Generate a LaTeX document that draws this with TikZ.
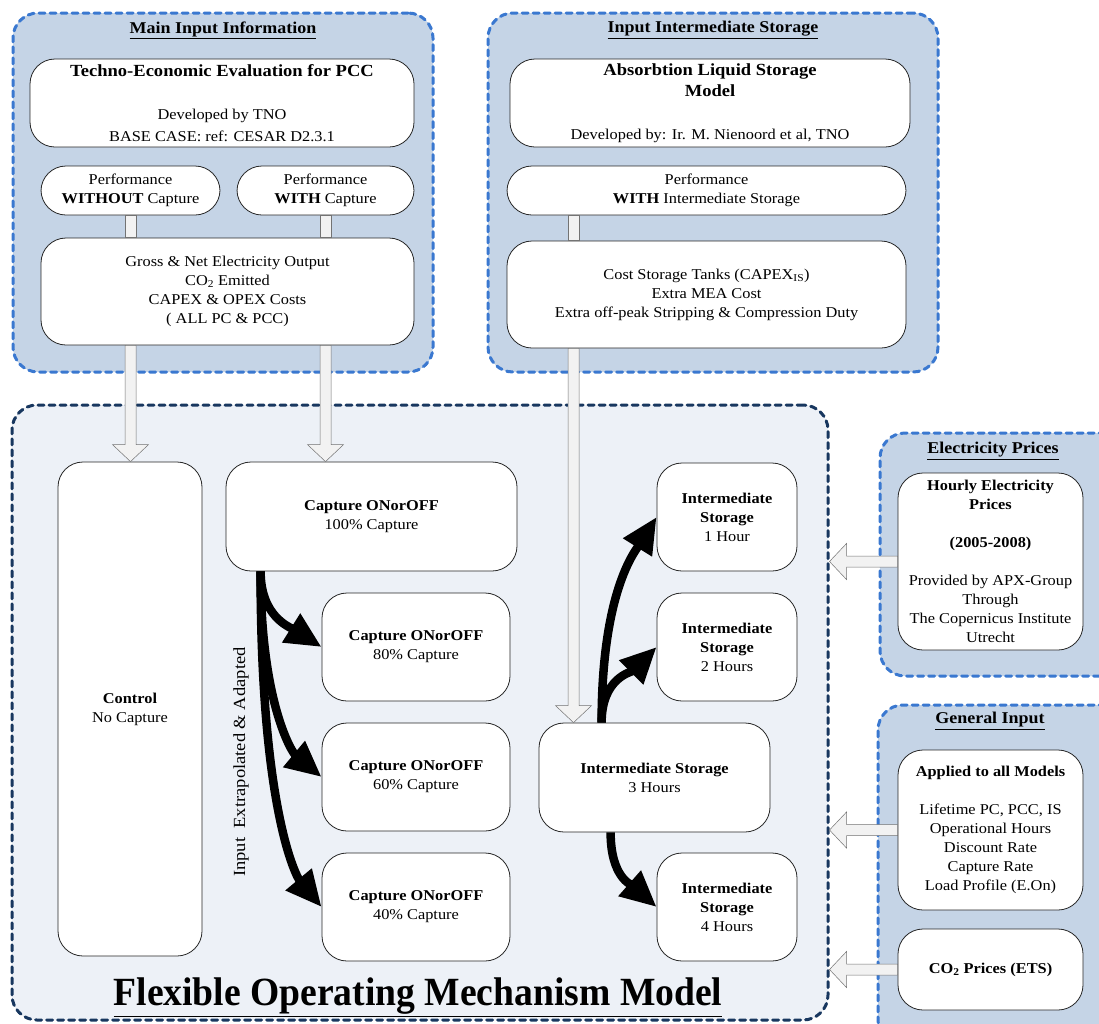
\documentclass[tikz,border=0pt]{standalone}
\usepackage{fontspec}
\setmainfont{Liberation Serif}[FakeStretch=1.09]
\newfontfamily\titlefont{Liberation Serif}[FakeStretch=0.94]
\usetikzlibrary{arrows.meta,calc}
\definecolor{groupfill}{RGB}{197,212,230}
\definecolor{groupline}{RGB}{58,120,208}
\definecolor{modelfill}{RGB}{237,241,247}
\definecolor{modelline}{RGB}{24,55,95}
\definecolor{pipefill}{RGB}{242,242,242}
\newcommand{\pipe}[2]{%
  \draw[pipe] ($(#1)!5.5pt!90:(#2)$) -- ($(#2)!5.5pt!-90:(#1)$) -- ($(#2)!5.5pt!90:(#1)$) -- ($(#1)!5.5pt!-90:(#2)$) -- cycle;}
\newcommand{\hollowarrow}[2]{%
  \coordinate (hb) at ($(#2)!17pt!(#1)$);
  \draw[pipe] ($(#1)!5.5pt!90:(#2)$) -- ($(hb)!5.5pt!-90:(#1)$) -- ($(hb)!18pt!-90:(#1)$) -- (#2)
    -- ($(hb)!18pt!90:(#1)$) -- ($(hb)!5.5pt!90:(#1)$) -- ($(#1)!5.5pt!-90:(#2)$) -- cycle;}
\begin{document}
\begin{tikzpicture}[x=1pt,y=-1pt,
    box/.style={draw=black!85,fill=white,line width=0.8pt,rounded corners=25pt,align=center,inner sep=0pt,font=\fontsize{15}{19}\selectfont},
    groupbox/.style={draw=groupline,fill=groupfill,line width=3pt,dash pattern=on 6pt off 5pt,line cap=round,rounded corners=25pt,inner sep=0pt},
    modelbox/.style={draw=modelline,fill=modelfill,line width=3pt,dash pattern=on 6pt off 5pt,line cap=round,rounded corners=25pt,inner sep=0pt},
    grouptitle/.style={font=\fontsize{16.5}{20}\selectfont\bfseries},
    pipe/.style={draw=black!55,fill=pipefill,line width=0.5pt},
    fatarrow/.style={line width=8.5pt,-{Triangle[length=36pt,width=32pt]}}]
\useasboundingbox (0,0) rectangle (1099,1023);
\clip (0,0) rectangle (1099,1023);
\fill[white] (0,0) rectangle (1099,1023);
% group frames
\node[groupbox,minimum width=420,minimum height=359] (maininfo) at (223,192.5) {};
\node[groupbox,minimum width=450,minimum height=359] (inputis) at (713,192.5) {};
\node[modelbox,minimum width=816,minimum height=615] (model) at (420,712.5) {};
\node[groupbox,minimum width=250,minimum height=243] (elec) at (1005,554.5) {};
\node[groupbox,minimum width=252,minimum height=340] (general) at (1004,875) {};
\node[grouptitle] at (223,30) {\underline{Main Input Information}};
\node[grouptitle] at (713,30) {\underline{Input Intermediate Storage}};
\node[grouptitle] at (993,451) {\underline{Electricity Prices}};
\node[grouptitle] at (990,721) {\underline{General Input}};
\node[font=\titlefont\fontsize{40}{44}\selectfont\bfseries] at (418,997) {\underline{Flexible Operating Mechanism Model}};
% main input
\node[box,minimum width=384,minimum height=88,font=\fontsize{15}{21.5}\selectfont] (techno) at (222,103)
  {{\fontsize{17}{21.5}\selectfont\bfseries Techno-Economic Evaluation for PCC}\\ \mbox{}\\ Developed by TNO\\ BASE CASE: ref: CESAR D2.3.1};
\node[box,minimum width=179,minimum height=49] (perfwo) at (130.5,190.5) {Performance\\ \textbf{WITHOUT} Capture};
\node[box,minimum width=177,minimum height=49] (perfw) at (325.5,190.5) {Performance\\ \textbf{WITH} Capture};
\node[box,minimum width=373,minimum height=107] (gross) at (227.5,291.5)
  {Gross \& Net Electricity Output\\ CO\textsubscript{2} Emitted\\ CAPEX \& OPEX Costs\\ ( ALL PC \& PCC)};
% intermediate storage input
\node[box,minimum width=400,minimum height=88,font=\fontsize{15}{21.5}\selectfont] (absorb) at (710,103)
  {{\fontsize{17}{21.5}\selectfont\bfseries Absorbtion Liquid Storage}\\ {\fontsize{17}{21.5}\selectfont\bfseries Model}\\ \mbox{}\\ Developed by: Ir. M. Nienoord et al, TNO};
\node[box,minimum width=399,minimum height=49] (perfis) at (706.5,190.5) {Performance\\ \textbf{WITH} Intermediate Storage};
\node[box,minimum width=399,minimum height=107] (cost) at (706.5,294.5)
  {Cost Storage Tanks (CAPEX\textsubscript{IS})\\ Extra MEA Cost\\ Extra off-peak Stripping \& Compression Duty};
% model
\node[box,minimum width=144,minimum height=494] (control) at (130,709) {\textbf{Control}\\ No Capture};
\node[box,minimum width=291,minimum height=109] (cap100) at (371.5,516.5) {\textbf{Capture ONorOFF}\\ 100\% Capture};
\node[box,minimum width=188,minimum height=108] (cap80) at (416,647) {\textbf{Capture ONorOFF}\\ 80\% Capture};
\node[box,minimum width=188,minimum height=108] (cap60) at (416,777) {\textbf{Capture ONorOFF}\\ 60\% Capture};
\node[box,minimum width=188,minimum height=108] (cap40) at (416,907) {\textbf{Capture ONorOFF}\\ 40\% Capture};
\node[rotate=90,font=\fontsize{17}{20}\selectfont] (extrap) at (241,762) {Input\ \ Extrapolated \& Adapted};
\node[box,minimum width=140,minimum height=108] (is1) at (727,517) {\textbf{Intermediate}\\ \textbf{Storage}\\ 1 Hour};
\node[box,minimum width=140,minimum height=108] (is2) at (727,647) {\textbf{Intermediate}\\ \textbf{Storage}\\ 2 Hours};
\node[box,minimum width=231,minimum height=109] (is3) at (654.5,777.5) {\textbf{Intermediate Storage}\\ 3 Hours};
\node[box,minimum width=140,minimum height=108] (is4) at (727,907) {\textbf{Intermediate}\\ \textbf{Storage}\\ 4 Hours};
% right inputs
\node[box,minimum width=185,minimum height=177] (hourly) at (990.5,561.5)
  {\textbf{Hourly Electricity}\\ \textbf{Prices}\\ \mbox{}\\ \textbf{(2005-2008)}\\ \mbox{}\\ Provided by APX-Group\\ Through\\ The Copernicus Institute\\ Utrecht};
\node[box,minimum width=185,minimum height=160] (applied) at (990.5,830)
  {\textbf{Applied to all Models}\\ \mbox{}\\ Lifetime PC, PCC, IS\\ Operational Hours\\ Discount Rate\\ Capture Rate\\ Load Profile (E.On)};
\node[box,minimum width=185,minimum height=81] (co2) at (990.5,969.5) {\textbf{CO\textsubscript{2} Prices (ETS)}};
% hollow connectors
\coordinate (ischan) at (573.5,0);
\coordinate (wtop) at (perfw.south |- gross.north);
\coordinate (wbot) at (perfw.south |- gross.south);
\coordinate (wend) at (perfw.south |- cap100.north);
\coordinate (wotop) at (perfwo.south |- gross.north);
\coordinate (wobot) at (perfwo.south |- gross.south);
\coordinate (woend) at (perfwo.south |- control.north);
\coordinate (isa) at (perfis.south -| ischan);
\coordinate (isb) at (cost.north -| ischan);
\coordinate (isc) at (cost.south -| ischan);
\coordinate (isd) at (is3.north -| ischan);
\pipe{perfwo.south}{wotop}
\pipe{perfw.south}{wtop}
\pipe{isa}{isb}
\hollowarrow{wobot}{woend}
\hollowarrow{wbot}{wend}
\hollowarrow{isc}{isd}
\coordinate (elecend) at (hourly.west -| model.east);
\coordinate (append) at (applied.west -| model.east);
\coordinate (co2end) at (co2.west -| model.east);
\hollowarrow{hourly.west}{elecend}
\hollowarrow{applied.west}{append}
\hollowarrow{co2.west}{co2end}
% fat arrows
\coordinate (capfork) at ($(cap100.south west)+(35,0)$);
\coordinate (isup) at ($(is3.north west)+(63,0)$);
\coordinate (isdown) at ($(is3.south west)+(72,0)$);
\draw[fatarrow] (capfork) .. controls +(0,45) and +(-32,-20) .. (cap80.west);
\draw[fatarrow] (capfork) .. controls +(0,130) and +(-30,-25) .. (cap60.west);
\draw[fatarrow] (capfork) .. controls +(0,240) and +(-25,-30) .. (cap40.west);
\draw[fatarrow] (isup) .. controls +(0,-130) and +(-22,35) .. (is1.west);
\draw[fatarrow] (isup) .. controls +(0,-45) and +(-25,25) .. (is2.west);
\draw[fatarrow] (isdown) .. controls +(0,45) and +(-25,-22) .. (is4.west);
\end{tikzpicture}
\end{document}
